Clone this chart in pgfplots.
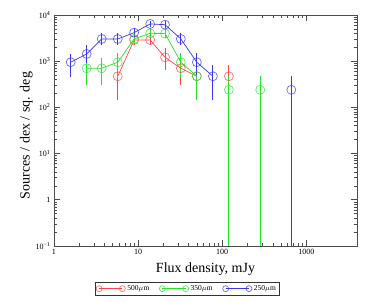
\documentclass[border=0pt]{standalone}
\usepackage{fontspec}
\setmainfont{Liberation Serif}
\usepackage{pgfplots}
\pgfplotsset{compat=1.18}
\definecolor{cred}{RGB}{255,70,70}
\definecolor{cgreen}{RGB}{40,225,40}
\definecolor{cblue}{RGB}{55,55,235}
\begin{document}
\begin{tikzpicture}
\begin{axis}[
  scale only axis, width=303pt, height=231pt,
  xmode=log, ymode=log, xmin=1, xmax=4000, ymin=0.1, ymax=10000,
  xtick={1,10,100,1000}, xticklabels={1,10,100,1000},
  ytick={0.1,1,10,100,1000,10000},
  yticklabels={10\textsuperscript{−1},1,10\textsuperscript{1},10\textsuperscript{2},10\textsuperscript{3},10\textsuperscript{4}},
  tick label style={font=\fontsize{8}{9}\selectfont},
  major tick length=6pt, minor tick length=3pt,
  axis line style={black!70, line width=0.9pt}, tick style={black!70, line width=0.7pt},
  xlabel={Flux density, mJy}, ylabel={Sources / dex / sq. deg},
  label style={font=\fontsize{14}{16}\selectfont},
  xlabel style={yshift=-1pt},
  ylabel style={yshift=-4pt, xshift=-5pt},
  legend style={at={(0.439,-0.156)}, anchor=north, legend columns=3,
    font=\fontsize{7.5}{8.5}\selectfont, draw=black!80, line width=0.8pt,
    inner sep=1pt, row sep=0pt,
    /tikz/every even column/.append style={column sep=8pt}},
  legend image code/.code={\draw[#1,mark size=3pt] plot coordinates {(0cm,0cm) (0.82cm,0cm)};},
  unbounded coords=jump,
]
% error bars
\addplot[cred, line width=0.8pt, no marks, forget plot] coordinates {
 (5.73,830) (5.73,145) (5.73,nan)
 (8.96,3700) (8.96,2245) (8.96,nan)
 (13.9,3700) (13.9,2245) (13.9,nan)
 (20.9,1905) (20.9,647) (20.9,nan)
 (32.2,1065) (32.2,306) (32.2,nan)
 (49.9,700) (49.9,300) (49.9,nan)
 (120,830) (120,260)
};
\addplot[cgreen, line width=0.8pt, no marks, forget plot] coordinates {
 (2.45,1160) (2.45,306) (2.45,nan)
 (3.69,1160) (3.69,306) (3.69,nan)
 (5.73,1480) (5.73,425) (5.73,nan)
 (8.96,3700) (8.96,2500) (8.96,nan)
 (13.9,5150) (13.9,3130) (13.9,nan)
 (20.9,5150) (20.9,3130) (20.9,nan)
 (32.2,1480) (32.2,463) (32.2,nan)
 (49.9,830) (49.9,145) (49.9,nan)
 (120,480) (120,0.05) (120,nan)
 (283,480) (283,0.05)
};
\addplot[cblue, line width=0.8pt, no marks, forget plot] coordinates {
 (1.58,1435) (1.58,463) (1.58,nan)
 (2.45,2245) (2.45,900) (2.45,nan)
 (3.69,4020) (3.69,2245) (3.69,nan)
 (5.73,4020) (5.73,2245) (5.73,nan)
 (8.96,5150) (8.96,3290) (8.96,nan)
 (13.9,7410) (13.9,5420) (13.9,nan)
 (20.9,7410) (20.9,5200) (20.9,nan)
 (32.2,4020) (32.2,2245) (32.2,nan)
 (49.9,1480) (49.9,463) (49.9,nan)
 (77.4,830) (77.4,145) (77.4,nan)
 (663,480) (663,0.05)
};
% main series
\addplot[cred, line width=0.7pt, mark=o, mark size=4.5pt, mark options={solid, opacity=0.75}] coordinates {
 (5.73,472) (8.96,2870) (13.9,2870) (20.9,1215) (32.2,703) (49.9,472) (80,nan) (120,472)
};
\addlegendentry{500$\mu$m}
\addplot[cgreen, line width=0.7pt, mark=o, mark size=4.5pt, mark options={solid, opacity=0.75}] coordinates {
 (2.45,703) (3.69,703) (5.73,950) (8.96,3030) (13.9,4020) (20.9,3950) (32.2,950) (49.9,472) (80,nan) (120,240) (200,nan) (283,240)
};
\addlegendentry{350$\mu$m}
\addplot[cblue, line width=0.7pt, mark=o, mark size=4.5pt, mark options={solid, opacity=0.75}] coordinates {
 (1.58,950) (2.45,1435) (3.69,3030) (5.73,3030) (8.96,4150) (13.9,6400) (20.9,6170) (32.2,3030) (49.9,950) (77.4,472) (200,nan) (663,240)
};
\addlegendentry{250$\mu$m}
\end{axis}
\pgfresetboundingbox
\path ([shift={(-54pt,-56pt)}]current axis.south west) rectangle ([shift={(17pt,15pt)}]current axis.north east);
\end{tikzpicture}
\end{document}
